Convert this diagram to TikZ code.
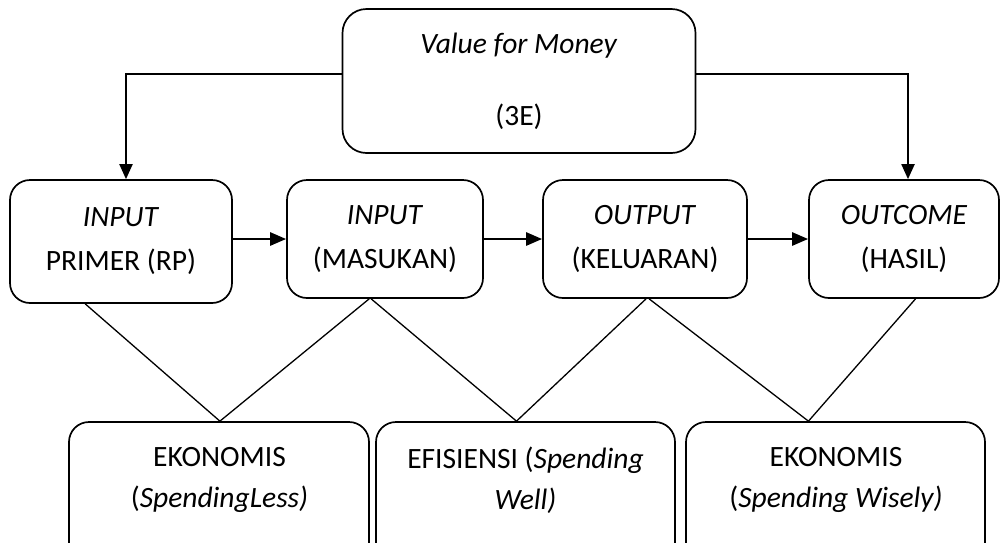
\documentclass[tikz,border=0pt]{standalone}
\usepackage{fontspec}
\setmainfont{Carlito}
\usetikzlibrary{arrows.meta,calc}
\begin{document}
\begin{tikzpicture}[x=1pt,y=-1pt,
  box/.style={draw,line width=1.7pt,rounded corners=20pt,inner sep=0pt},
  txt/.style={align=center,font=\fontsize{29.5}{44}\selectfont,inner sep=0pt},
  btxt/.style={align=center,font=\fontsize{29.5}{41}\selectfont,inner sep=0pt},
  harr/.style={-{Triangle[length=16pt,width=13pt]},line width=2.6pt},
  varr/.style={-{Triangle[length=15pt,width=13pt]},line width=2pt},
  link/.style={line width=1.3pt}]
\useasboundingbox (0,0) rectangle (1000,542);
\begin{scope}
\clip (-1,-1) rectangle (1001,543);
% top box
\node[box,rounded corners=24pt,minimum width=353pt,minimum height=144pt,txt] (top) at (519,81)
  {\textit{Value for Money}\\[28pt](3E)};
% row boxes
\node[box,txt,minimum width=222pt,minimum height=123pt] (r1) at (121,241.5) {\textit{INPUT}\\PRIMER (RP)};
\node[box,txt,minimum width=196pt,minimum height=118pt] (r2) at (385,239) {\textit{INPUT}\\(MASUKAN)};
\node[box,txt,minimum width=204pt,minimum height=118pt] (r3) at (645,239) {\textit{OUTPUT}\\(KELUARAN)};
\node[box,txt,minimum width=190pt,minimum height=118pt] (r4) at (904,239) {\textit{OUTCOME}\\(HASIL)};
% bottom boxes
\node[box,minimum width=300pt,minimum height=143pt] (bA) at (219,493.5) {};
\node[box,minimum width=299pt,minimum height=143pt] (bB) at (525.5,493.5) {};
\node[box,minimum width=299pt,minimum height=143pt] (bC) at (835.5,493.5) {};
\node[btxt] (tA) at (219.5,480) {EKONOMIS\\(\textit{SpendingLess)}};
\node[btxt] (tB) at (525.5,480) {EFISIENSI (\textit{Spending}\\\textit{Well)}};
\node[btxt] (tC) at (836,480) {EKONOMIS\\(\textit{Spending Wisely)}};
% arrows from top
\draw[varr] ([yshift=7pt]top.west) -| ([xshift=5pt]r1.north);
\draw[varr] ([yshift=7pt]top.east) -| ([xshift=4pt]r4.north);
% horizontal arrows
\draw[harr] (r1.east |- r2.west) -- (r2.west);
\draw[harr] (r2.east) -- (r3.west);
\draw[harr] (r3.east) -- (r4.west);
% links
\coordinate (aA) at ($(bA.north west)!0.503!(bA.north east)$);
\coordinate (aB) at ($(bB.north west)!0.47!(bB.north east)$);
\coordinate (aC) at ($(bC.north west)!0.41!(bC.north east)$);
\draw[link] ($(r1.south west)!0.34!(r1.south east)$) -- (aA);
\draw[link] ($(r2.south west)!0.42!(r2.south east)$) -- (aA);
\draw[link] ($(r2.south west)!0.43!(r2.south east)$) -- (aB);
\draw[link] ($(r3.south west)!0.505!(r3.south east)$) -- (aB);
\draw[link] ($(r3.south west)!0.52!(r3.south east)$) -- (aC);
\draw[link] ($(r4.south west)!0.56!(r4.south east)$) -- (aC);
\end{scope}
\end{tikzpicture}
\end{document}
